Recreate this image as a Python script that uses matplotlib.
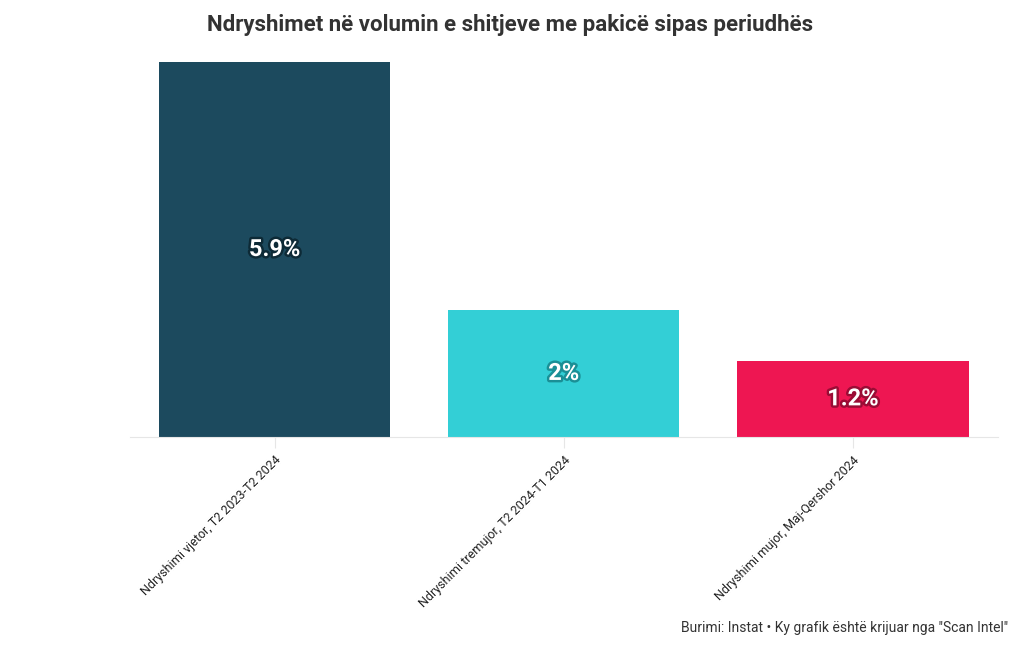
import matplotlib.pyplot as plt
import matplotlib.patheffects as pe

# Data
categories = ['Ndryshimi vjetor, T2 2023-T2 2024',
              'Ndryshimi tremujor, T2 2024-T1 2024',
              'Ndryshimi mujor, Maj-Qershor 2024']
values = [5.9, 2.0, 1.2]
labels = ['5.9%', '2%', '1.2%']
colors = ['#1c4a5e', '#33cfd6', '#ee1652']
glows = ['#0d2a36', '#1a8f96', '#9a0c35']

plt.rcParams['font.family'] = ['Roboto', 'DejaVu Sans']

fig = plt.figure(figsize=(10.2, 6.5), dpi=100)
ax = fig.add_axes([0.1275, 0.3277, 0.8505, 0.5769])

x = range(len(categories))
ax.bar(x, values, width=0.8, color=colors)
ax.set_xlim(-0.5, 2.5)
ax.set_ylim(0, 5.9)

for i, (v, lab) in enumerate(zip(values, labels)):
    ax.text(i, v / 2, lab, ha='center', va='center', color='white',
            fontsize=17, fontweight='bold',
            path_effects=[pe.withStroke(linewidth=3.5, foreground=glows[i])])

ax.set_xticks(list(x))
ax.set_xticklabels(categories, rotation=45, ha='right', rotation_mode='anchor',
                   fontsize=9, color='#222222')
ax.tick_params(axis='x', length=8, color='#e6e6e6', pad=4)
ax.set_yticks([])
for s in ['top', 'right', 'left']:
    ax.spines[s].set_visible(False)
ax.spines['bottom'].set_color('#e6e6e6')

fig.text(0.5, 0.962, 'Ndryshimet në volumin e shitjeve me pakicë sipas periudhës',
         ha='center', va='center', fontsize=16, fontweight='bold', color='#333333')
fig.text(0.988, 0.034, 'Burimi: Instat • Ky grafik është krijuar nga "Scan Intel"',
         ha='right', va='center', fontsize=10, color='#333333')

fig.savefig('out.png', dpi=100)
